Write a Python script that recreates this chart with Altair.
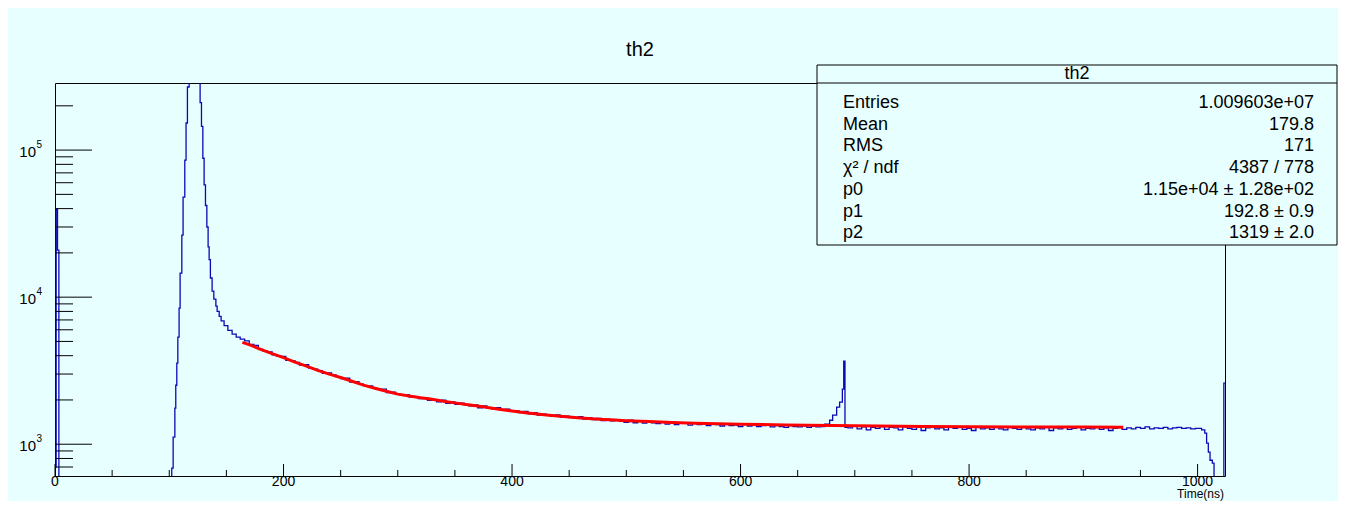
import altair as alt
import pandas as pd

# ---------------- data ----------------
# histogram: bin left edges (ns) and counts
spike_x = [0, 1, 2.2, 3.4]
spike_y = [700, 39700, 20900, 300]

rise_x = [102.2, 103.4, 104.9, 105.7, 106.6, 107.5, 108.6, 109.5, 111.0, 112.1,
          113.6, 114.7, 115.9, 117.4]
rise_y = [688, 1116, 1758, 2518, 3556, 5346, 8414, 14550, 26400, 47860,
          85500, 152800, 268600, 900000]

fall_x = [127.0, 128.2, 129.4, 130.5, 131.7, 132.9, 134.0, 134.9, 136.0, 137.5,
          139.0, 140.8, 141.9, 143.7, 145.4, 148.0, 151.3, 155.0, 158.6, 162.1]
fall_y = [210000, 145000, 88000, 58000, 42000, 30000, 22000, 18000, 13500, 11000,
          9700, 8700, 8000, 7400, 6900, 6400, 5950, 5600, 5350, 5180]

tail1_x = list(range(166, 670, 4))
tail1_y = [5050, 4780, 4700, 4420, 4310, 4250, 4050, 3980, 3950, 3720,
           3700, 3600, 3450, 3480, 3290, 3240, 3160, 3030, 3050, 2960,
           2880, 2790, 2810, 2650, 2660, 2560, 2500, 2490, 2400, 2360,
           2370, 2240, 2260, 2200, 2160, 2170, 2090, 2110, 2040, 2070,
           1990, 2010, 1940, 1990, 1900, 1940, 1870, 1900, 1850, 1820,
           1850, 1770, 1820, 1760, 1740, 1770, 1700, 1730, 1670, 1690,
           1640, 1670, 1610, 1640, 1580, 1600, 1590, 1550, 1580, 1530,
           1550, 1520, 1500, 1540, 1480, 1510, 1470, 1500, 1450, 1480,
           1440, 1470, 1430, 1410, 1460, 1400, 1440, 1390, 1430, 1400,
           1380, 1420, 1370, 1410, 1360, 1390, 1400, 1350, 1390, 1360,
           1380, 1340, 1370, 1360, 1330, 1380, 1340, 1350, 1320, 1370,
           1330, 1350, 1320, 1340, 1360, 1310, 1340, 1320, 1300, 1340,
           1320, 1310, 1335, 1300, 1325, 1310]

bump_x = [670, 673.6, 678.0, 680.6, 684.1, 686.7, 689.1, 690.3, 691.4]
bump_y = [1320, 1368, 1456, 1575, 1786, 1931, 2367, 3670, 1300]

tail2_x = list(range(694, 1002, 4))
tail2_y = [1290, 1330, 1270, 1310, 1250, 1300, 1280, 1320, 1260, 1300,
           1290, 1250, 1310, 1280, 1260, 1300, 1240, 1290, 1310, 1270,
           1290, 1250, 1300, 1280, 1310, 1260, 1280, 1240, 1300, 1270,
           1290, 1260, 1310, 1270, 1250, 1300, 1280, 1260, 1310, 1270,
           1250, 1290, 1270, 1300, 1240, 1290, 1270, 1310, 1260, 1280,
           1300, 1250, 1280, 1270, 1310, 1260, 1290, 1240, 1280, 1300,
           1260, 1290, 1270, 1300, 1280, 1310, 1270, 1290, 1280, 1300,
           1270, 1290, 1300, 1280, 1290, 1270, 1280]

drop_x = [1003.5, 1006.3, 1007.9, 1009.4, 1010.9, 1012.9, 1014.4, 1023, 1024]
drop_y = [1250, 1188, 1016, 883, 778, 743, 300, 2600, 2600]

# fit curve (red)
fit_x = [164, 170, 180, 190, 200, 210, 220, 230, 240, 250,
         260, 270, 280, 290, 300, 310, 320, 330, 340, 350,
         360, 370, 380, 390, 400, 410, 420, 430, 440, 450,
         460, 470, 480, 490, 500, 520, 540, 560, 580, 600,
         640, 680, 720, 760, 800, 850, 900, 935]
fit_y = [4930, 4750, 4420, 4130, 3880, 3620, 3400, 3180, 3000, 2840,
         2680, 2520, 2400, 2290, 2190, 2130, 2070, 2020, 1960, 1910,
         1860, 1820, 1770, 1725, 1685, 1645, 1610, 1580, 1555, 1530,
         1510, 1490, 1475, 1460, 1445, 1425, 1405, 1390, 1378, 1368,
         1352, 1340, 1330, 1322, 1316, 1311, 1307, 1305]

# axes
x_major = [0, 200, 400, 600, 800, 1000]
x_minor = [50, 100, 150, 250, 300, 350, 450, 500, 550, 650, 700, 750, 850, 900, 950]
y_major = [1000, 10000, 100000]
y_exp = ["3", "4", "5"]
y_minor = [700, 800, 900, 2000, 3000, 4000, 5000, 6000, 7000, 8000, 9000,
           20000, 30000, 40000, 50000, 60000, 70000, 80000, 90000, 200000]

title_text = "th2"
x_title = "Time(ns)"
stat_labels = ["Entries", "Mean", "RMS", "\u03c7\u00b2 / ndf", "p0", "p1", "p2"]
stat_values = ["1.009603e+07", "179.8", "171", "4387 / 778",
               "1.15e+04 \u00b1 1.28e+02", "192.8 \u00b1 0.9", "1319 \u00b1 2.0"]

# ---------------- styling / layout ----------------
BG = "#E8FFFF"
BLUE = "#0A0AB4"
RED = "#FF0000"
FONT = "Liberation Sans"
W, H = 1170, 393

hist = pd.DataFrame({
    "t": spike_x + rise_x + fall_x + tail1_x + bump_x + tail2_x + drop_x,
    "n": spike_y + rise_y + fall_y + tail1_y + bump_y + tail2_y + drop_y,
})
fit = pd.DataFrame({"t": fit_x, "f": fit_y})
xmaj_df = pd.DataFrame({"v": x_major, "lab": [str(v) for v in x_major]})
xmin_df = pd.DataFrame({"v": x_minor})
ymaj_df = pd.DataFrame({"v": y_major, "e": y_exp})
ymin_df = pd.DataFrame({"v": y_minor})
one = pd.DataFrame({"k": [0]})

xs = alt.Scale(domain=[0, 1024], nice=False, zero=False)
ys = alt.Scale(type="log", domain=[608, 285900], nice=False)


def X(f):
    return alt.X(f, type="quantitative", scale=xs, axis=None)


def Y(f):
    return alt.Y(f, type="quantitative", scale=ys, axis=None)


hist_line = alt.Chart(hist).mark_line(
    interpolate="step-after", color=BLUE, strokeWidth=1.3, clip=True
).encode(x=X("t"), y=Y("n"))

fit_line = alt.Chart(fit).mark_line(color=RED, strokeWidth=3, clip=True).encode(
    x=X("t"), y=Y("f"))

ymaj_ticks = alt.Chart(ymaj_df).mark_rule(color="black", strokeWidth=1).encode(
    y=Y("v"), x=alt.value(0), x2=alt.value(37))
ymin_ticks = alt.Chart(ymin_df).mark_rule(color="black", strokeWidth=1).encode(
    y=Y("v"), x=alt.value(0), x2=alt.value(18))
xmaj_ticks = alt.Chart(xmaj_df).mark_rule(color="black", strokeWidth=1).encode(
    x=X("v"), y=alt.value(H), y2=alt.value(H - 12))
xmin_ticks = alt.Chart(xmin_df).mark_rule(color="black", strokeWidth=1).encode(
    x=X("v"), y=alt.value(H), y2=alt.value(H - 6))

xlabels = alt.Chart(xmaj_df).mark_text(
    font=FONT, fontSize=14, align="center", baseline="middle", color="black"
).encode(x=X("v"), y=alt.value(H + 6), text="lab:N")

ylab10 = alt.Chart(ymaj_df).mark_text(
    font=FONT, fontSize=15, align="right", baseline="middle", dy=2, color="black"
).encode(y=Y("v"), x=alt.value(-19), text=alt.value("10"))
ylabexp = alt.Chart(ymaj_df).mark_text(
    font=FONT, fontSize=10, align="left", baseline="middle", dy=-5, color="black"
).encode(y=Y("v"), x=alt.value(-18.5), text="e:N")

xtitle = alt.Chart(one).mark_text(
    font=FONT, fontSize=12, align="right", baseline="bottom", color="black"
).encode(x=alt.value(W - 1), y=alt.value(H + 25), text=alt.value(x_title))

title = alt.Chart(one).mark_text(
    font=FONT, fontSize=20, align="center", baseline="middle", color="black"
).encode(x=alt.value(585), y=alt.value(-33), text=alt.value(title_text))

# statistics box
BX0, BX1, BY0, BY1 = 762, 1282, -18, 162
box = alt.Chart(one).mark_rect(fill=BG, stroke="black", strokeWidth=1).encode(
    x=alt.value(BX0), x2=alt.value(BX1), y=alt.value(BY0), y2=alt.value(BY1))
sep = alt.Chart(one).mark_rule(color="black", strokeWidth=1).encode(
    x=alt.value(BX0), x2=alt.value(BX1), y=alt.value(0))
box_title = alt.Chart(one).mark_text(
    font=FONT, fontSize=18, align="center", baseline="middle", color="black"
).encode(x=alt.value((BX0 + BX1) / 2), y=alt.value(-9), text=alt.value(title_text))
stat_lab = alt.Chart(one).mark_text(
    font=FONT, fontSize=18, align="left", baseline="alphabetic", color="black",
    lineBreak="\n", lineHeight=21.7
).encode(x=alt.value(788), y=alt.value(25), text=alt.value("\n".join(stat_labels)))
stat_val = alt.Chart(one).mark_text(
    font=FONT, fontSize=18, align="right", baseline="alphabetic", color="black",
    lineBreak="\n", lineHeight=21.7
).encode(x=alt.value(1259), y=alt.value(25), text=alt.value("\n".join(stat_values)))

chart = alt.layer(
    hist_line, fit_line, ymaj_ticks, ymin_ticks, xmaj_ticks, xmin_ticks,
    xlabels, ylab10, ylabexp, xtitle, title, box, sep, box_title, stat_lab, stat_val
).properties(
    width=W, height=H,
    autosize=alt.AutoSizeParams(type="none"),
    padding={"left": 47, "top": 75, "right": 113, "bottom": 25},
    background=BG,
).configure_view(stroke="black", strokeWidth=1, fill=BG)

chart.save("out.html", embed_options={"renderer": "svg", "actions": False})
